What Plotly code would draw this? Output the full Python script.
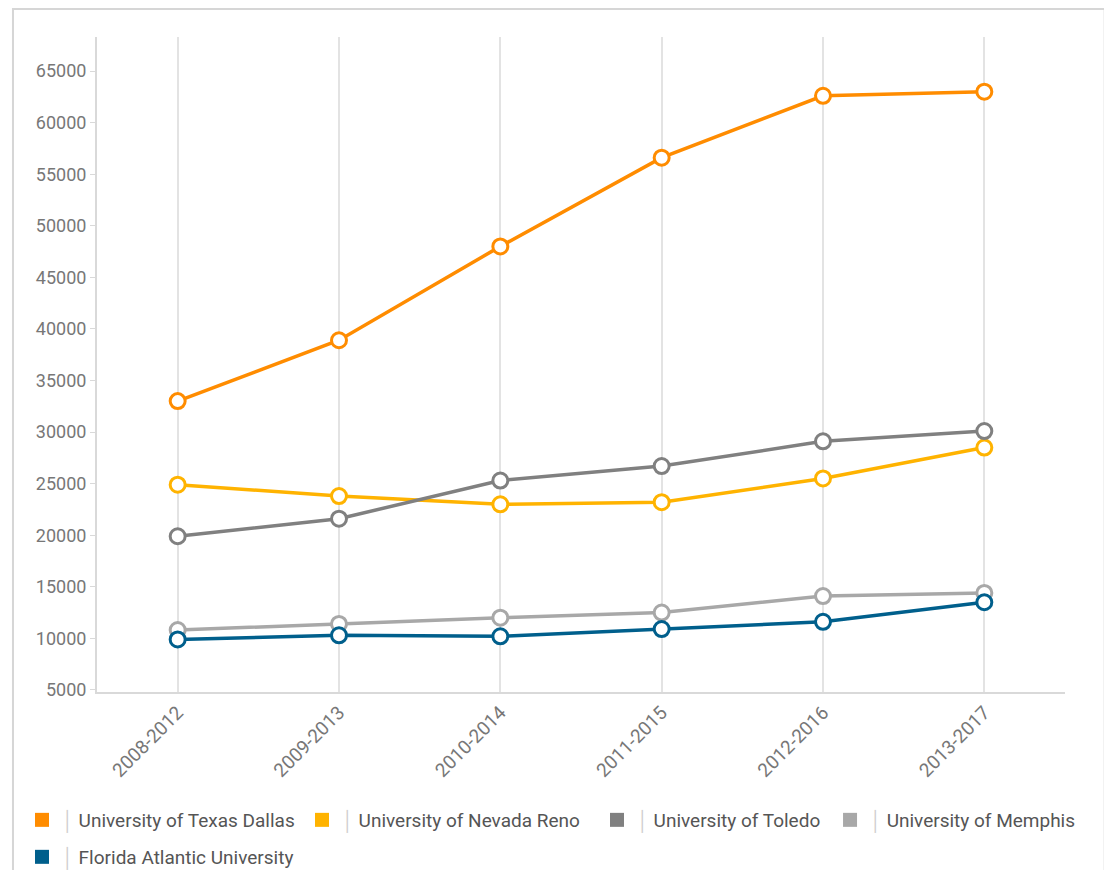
import plotly.graph_objects as go

periods = ["2008-2012", "2009-2013", "2010-2014", "2011-2015", "2012-2016", "2013-2017"]

utd = [33000, 38900, 48000, 56600, 62600, 63000]
unr = [24900, 23800, 23000, 23200, 25500, 28500]
toledo = [19900, 21600, 25300, 26700, 29100, 30100]
memphis = [10800, 11400, 12000, 12500, 14100, 14400]
fau = [9900, 10300, 10200, 10900, 11600, 13500]

names = ["University of Texas Dallas", "University of Nevada Reno", "University of Toledo",
         "University of Memphis", "Florida Atlantic University"]
colors = ["#FF8C00", "#FFB300", "#808080", "#A8A8A8", "#005F8C"]
series = [utd, unr, toledo, memphis, fau]

# one legend box per entry, placed like the reference's wrapped legend
legend_ids = ["legend", "legend2", "legend3", "legend4", "legend5"]
legend_pos = [(0.0127, 0.058), (0.2663, 0.058), (0.5335, 0.058), (0.7446, 0.058), (0.0127, 0.0151)]

fig = go.Figure()
for name, col, vals in zip(names, colors, series):
    fig.add_trace(go.Scatter(
        x=periods, y=vals, mode="lines+markers", name=name, showlegend=False,
        line=dict(color=col, width=3.5),
        marker=dict(symbol="circle", size=15, color="white", line=dict(color=col, width=3)),
    ))
for name, col, lid in zip(names, colors, legend_ids):
    fig.add_trace(go.Scatter(
        x=[None], y=[None], mode="markers", legend=lid,
        name="<span style='color:#cfcfcf'>│</span> " + name,
        marker=dict(symbol="square", size=14, color=col),
    ))

legend_common = dict(orientation="h", xref="container", yref="container",
                     xanchor="left", yanchor="middle",
                     font=dict(size=19, color="#555555"), itemwidth=30,
                     bgcolor="rgba(0,0,0,0)")

layout_legends = {}
for lid, (lx, ly) in zip(legend_ids, legend_pos):
    layout_legends[lid] = dict(legend_common, x=lx, y=ly)

fig.update_layout(
    width=1104, height=862,
    margin=dict(l=89, r=47, t=29, b=178),
    paper_bgcolor="white", plot_bgcolor="white",
    font=dict(family="Roboto, Liberation Sans, sans-serif", size=17, color="#666666"),
    xaxis=dict(
        type="category", range=[-0.5, 5.5],
        showgrid=True, gridcolor="#e3e3e3", gridwidth=2,
        showline=True, linecolor="#d9d9d9", linewidth=2,
        ticks="", tickangle=-45, tickfont=dict(size=19, color="#777777"),
        zeroline=False,
    ),
    yaxis=dict(
        range=[4800, 68300], tick0=5000, dtick=5000, tickformat="d",
        showgrid=False, showline=True, linecolor="#d9d9d9", linewidth=2,
        ticks="outside", ticklen=5, tickcolor="#d9d9d9", tickwidth=1,
        tickfont=dict(size=18, color="#777777"), zeroline=False,
    ),
    shapes=[dict(type="rect", xref="paper", yref="paper",
                 x0=-0.0868, x1=1.0410, y0=-0.35, y1=1.0427,
                 line=dict(color="#d6d6d6", width=2), fillcolor="rgba(0,0,0,0)", layer="below")],
    **layout_legends,
)

fig.write_html("out.html")
